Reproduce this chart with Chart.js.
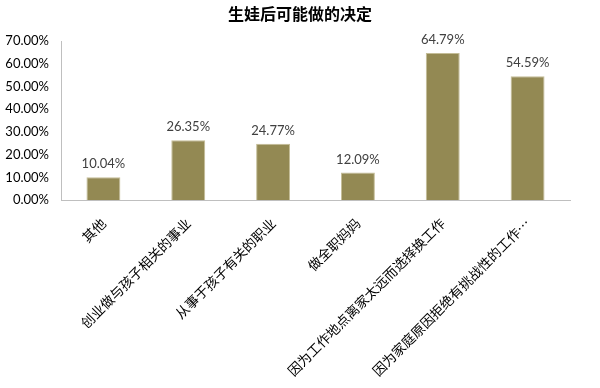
<!DOCTYPE html>
<html>
<head>
<meta charset="utf-8">
<script src="https://cdn.jsdelivr.net/npm/chart.js@4"></script>
<style>
  html, body { margin: 0; padding: 0; background: #fff; }
  #wrap { width: 600px; height: 388px; }
</style>
</head>
<body>
<div id="wrap"><canvas id="c" width="600" height="388"></canvas></div>
<script>
const chartTitle = '生娃后可能做的决定';
const categories = [
  '其他',
  '创业做与孩子相关的事业',
  '从事于孩子有关的职业',
  '做全职妈妈',
  '因为工作地点离家太远而选择换工作',
  '因为家庭原因拒绝有挑战性的工作…'
];
const shares = [10.04, 26.35, 24.77, 12.09, 64.79, 54.59];
const yTicks = [0, 10, 20, 30, 40, 50, 60, 70];

const latin = 'Lato, "Liberation Sans", sans-serif';
const cjk = '"Noto Sans CJK SC", sans-serif';

// Percent labels above each bar, positioned from the bar elements
const valueLabels = {
  id: 'valueLabels',
  afterDatasetsDraw(chart) {
    const ctx = chart.ctx;
    const meta = chart.getDatasetMeta(0);
    ctx.save();
    ctx.font = '13px ' + latin;
    ctx.fillStyle = '#404040';
    ctx.textAlign = 'center';
    ctx.textBaseline = 'middle';
    meta.data.forEach((bar, i) => {
      const v = chart.data.datasets[0].data[i];
      ctx.fillText(v.toFixed(2) + '%', bar.x, bar.y - 13);
    });
    ctx.restore();
  }
};

new Chart(document.getElementById('c'), {
  type: 'bar',
  data: {
    labels: categories,
    datasets: [{
      data: shares,
      backgroundColor: '#938953',
      borderColor: '#c4bd97',
      borderWidth: 1,
      categoryPercentage: 1.0,
      barPercentage: 0.4
    }]
  },
  options: {
    responsive: false,
    animation: false,
    layout: { padding: { left: 0, right: 0, top: 0, bottom: 0 } },
    plugins: {
      legend: { display: false },
      tooltip: { enabled: false },
      title: {
        display: true,
        text: chartTitle,
        color: '#000',
        font: { family: cjk, size: 16, weight: 'bold' },
        padding: { top: 4, bottom: 18 }
      }
    },
    scales: {
      x: {
        grid: { display: false, drawTicks: false },
        border: { display: true, color: '#bfbfbf', width: 1 },
        ticks: {
          minRotation: 45,
          maxRotation: 45,
          autoSkip: false,
          padding: 15,
          color: '#000',
          font: { family: cjk, size: 13.5 }
        },
        afterFit(scale) { scale.height = 188; }
      },
      y: {
        min: 0,
        max: 70,
        afterBuildTicks(scale) { scale.ticks = yTicks.map(v => ({ value: v })); },
        grid: { display: false, drawTicks: false },
        border: { display: true, color: '#bfbfbf', width: 1 },
        ticks: {
          padding: 12,
          color: '#000',
          font: { family: latin, size: 13 },
          callback: v => v.toFixed(2) + '%'
        },
        afterFit(scale) { scale.width = 61; }
      },
      // empty right-hand margin so the plot ends where the frame leaves space
      yRight: {
        position: 'right',
        display: true,
        grid: { display: false, drawTicks: false },
        border: { display: false },
        ticks: { display: false },
        afterFit(scale) { scale.width = 30; }
      }
    }
  },
  plugins: [valueLabels]
});
</script>
</body>
</html>
